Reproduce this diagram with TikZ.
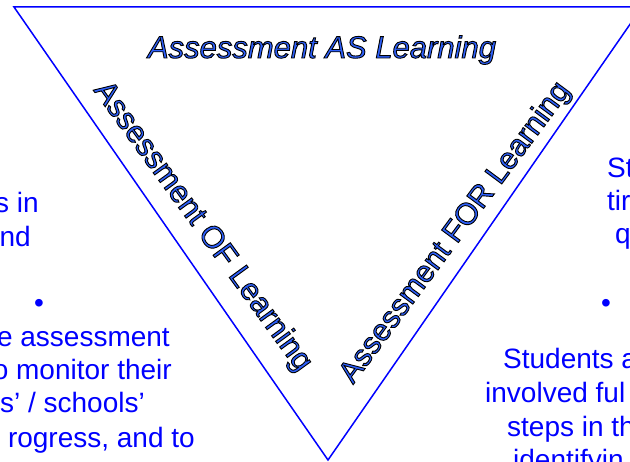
\documentclass[tikz,border=0pt]{standalone}
\usepackage{fontspec}
\setmainfont{Liberation Sans}
\definecolor{labelblue}{RGB}{45,95,250}
% blue letters with a black rim (PDF text render mode 2)
\newcommand\rimmed[1]{\special{pdf:literal direct 2 Tr 0.9 w 0 0 0 RG}#1\special{pdf:literal direct 0 Tr}}

\begin{document}
\begin{tikzpicture}[x=1pt,y=-1pt,
    triline/.style={draw=blue,line width=1.5pt,line join=miter},
    labeltext/.style={text=labelblue,font=\fontsize{31}{37}\selectfont,inner sep=0pt},
    notetext/.style={text=blue,font=\fontsize{28}{32}\selectfont,inner sep=0pt}]
        \useasboundingbox (0,0) rectangle (630,462);
        \clip (0,0) rectangle (630,462);

        \coordinate (tl) at (14,7);
        \coordinate (tr) at (642,7);
        \coordinate (bt) at (328,460);
        \draw[triline] (tl) -- (tr) -- (bt) -- cycle;

        \node[labeltext,font=\fontsize{31}{37}\selectfont\itshape,anchor=base] (aslabel) at (322,58) {\rimmed{Assessment AS Learning}};
        \node[labeltext,anchor=base west,rotate=-54] (oflabel) at (93,90) {\rimmed{Assessment OF Learning}};
        \node[labeltext,font=\fontsize{30.5}{36}\selectfont,anchor=base west,rotate=53.5] (forlabel) at (353,385) {\rimmed{Assessment FOR Learning}};

        \foreach \px/\py/\txt [count=\i] in {39/213/s in, 31/247/nd, 170/347/e assessment,
            172/380/o monitor their, 145/413/{s’ / schools’}, {195/448/rogress, and to}}{
            \node[notetext,anchor=base east] (left\i) at (\px,\py) {\txt};
        }
        \foreach \px/\py/\txt [count=\i] in {607/178/St, 607/211/tir, 615/244/q,
            503/369/Students a, 485/403/involved ful, 507/437/steps in th, 513/470/identifyin}{
            \node[notetext,anchor=base west] (right\i) at (\px,\py) {\txt};
        }
        \node[notetext,anchor=base] (leftdot) at (39,313) {•};
        \node[notetext,anchor=base] (rightdot) at (606,313) {•};
    \end{tikzpicture}
\end{document}
